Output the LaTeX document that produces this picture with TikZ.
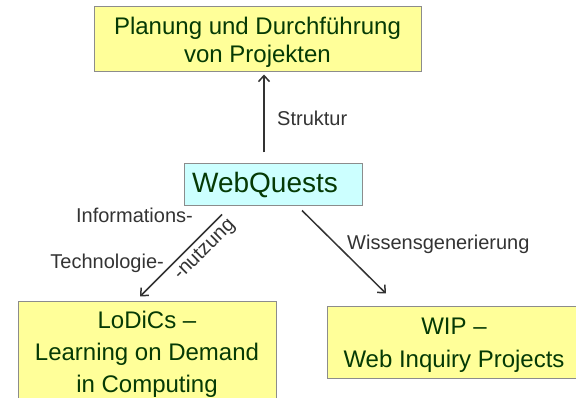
\documentclass[tikz,border=0pt]{standalone}
\usepackage{fontspec}
\setmainfont{Liberation Sans}
\usetikzlibrary{arrows.meta,calc}
\definecolor{boxyellow}{HTML}{FFFF99}
\definecolor{boxcyan}{HTML}{CCFFFF}
\definecolor{boxtext}{HTML}{053A05}
\definecolor{labeltext}{HTML}{333333}
\definecolor{edge}{HTML}{8C8C8C}
\begin{document}
\begin{tikzpicture}[x=1pt,y=-1pt,
  ybox/.style={draw=edge,line width=1pt,fill=boxyellow,text=boxtext,inner sep=0pt,align=center,font=\fontsize{24}{28}\selectfont},
  cbox/.style={draw=edge,line width=1pt,fill=boxcyan,text=boxtext,inner sep=0pt,align=center,font=\fontsize{28}{32}\selectfont},
  lab/.style={text=labeltext,inner sep=0pt,font=\fontsize{20}{24}\selectfont},
  arr/.style={draw=labeltext,line width=1.5pt,-{Straight Barb[length=6pt,width=11pt,line width=1.5pt]}}]
\useasboundingbox (0,0) rectangle (576,398);
\clip (0,0) rectangle (576,398);
\node[ybox,minimum width=327pt,minimum height=65pt] (top) at (257.5,39.5) {\rule{0pt}{22.5pt}Planung und Durchführung\\von Projekten};
\node[cbox,minimum width=178pt,minimum height=42pt] (wq) at (273,185) {WebQuests\hspace*{16pt}};
\node[ybox,minimum width=258pt,minimum height=104pt,font=\fontsize{24}{32}\selectfont] (lodics) at (147,354) {LoDiCs –\\Learning on Demand\\in Computing};
\node[ybox,minimum width=254pt,minimum height=71pt,font=\fontsize{24}{33}\selectfont] (wip) at (454,342.5) {\rule{0pt}{21.5pt}WIP –\\Web Inquiry Projects};
\draw[arr] ($(wq.north)+(-9,-11)$) -- ($(top.south)+(6.5,2)$);
\draw[arr] ($(wq.south)+(-51,8)$) -- ($(lodics.north)+(-7,-5)$);
\draw[arr] ($(wq.south)+(29,4)$) -- ($(wip.north)+(-68,-13)$);
\node[lab,anchor=west] (struktur) at (277,118) {Struktur};
\node[lab,anchor=west] (wissen) at (347,244) {Wissensgenerierung};
\node[lab,anchor=east] (info) at (193,215) {Informations-};
\node[lab,anchor=east] (tech) at (164,263) {Technologie-};
\node[lab,rotate=45] (nutz) at (205,250) {-nutzung};
\end{tikzpicture}
\end{document}
